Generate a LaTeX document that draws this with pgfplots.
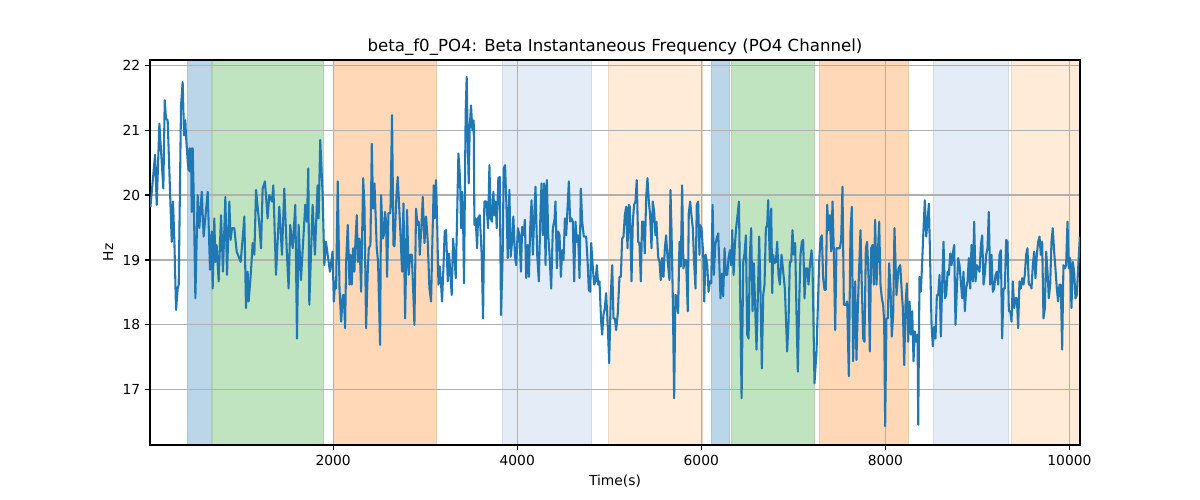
\documentclass[border=0pt]{standalone}
\usepackage{pgfplots}
\pgfplotsset{compat=1.18}
\usepackage{fontspec}
\setmainfont{DejaVu Sans}

\definecolor{tabblue}{HTML}{1F77B4}
\definecolor{gridgray}{HTML}{B0B0B0}
\definecolor{spanblue}{RGB}{188,214,233}
\definecolor{spangreen}{RGB}{192,227,192}
\definecolor{spanorange}{RGB}{255,217,183}
\definecolor{spanltblue}{RGB}{228,237,247}
\definecolor{spanltorange}{RGB}{255,235,216}

\tikzset{
    span/.style={draw=#1!92!black, line width=0.6pt, fill=#1},
}
\newcommand{\vspan}[3]{%
    \fill[span=#3] (axis cs:#1,16.15) rectangle (axis cs:#2,22.08);}

\begin{document}
\begin{tikzpicture}
\begin{axis}[
    at={(0,0)}, anchor=south west,
    width=9.3in, height=3.85in, scale only axis,
    set layers,
    xmin=10, xmax=10115, ymin=16.15, ymax=22.08,
    xtick={2000,4000,6000,8000,10000},
    ytick={17,18,19,20,21,22},
    scaled x ticks=false,
    grid=major,
    grid style={color=gridgray, line width=0.8pt},
    axis line style={line width=0.8pt},
    tick align=outside, tick pos=left,
    major tick length=3.5pt,
    tick style={black, line width=0.8pt},
    /pgf/number format/assume math mode=true,
    /pgf/number format/1000 sep={},
    ticklabel style={font=\fontsize{10}{12}\selectfont},
    label style={font=\fontsize{10}{12}\selectfont},
    title style={font=\fontsize{12}{14}\selectfont, yshift=-6pt},
    xlabel={Time(s)},
    ylabel={Hz},
    title={beta\_f0\_PO4: Beta Instantaneous Frequency (PO4 Channel)},
]
% shaded intervals
\pgfonlayer{axis background}
\vspan{413}{674}{spanblue}
\vspan{685}{1891}{spangreen}
\vspan{2000}{3120}{spanorange}
\vspan{3837}{4804}{spanltblue}
\vspan{4989}{6011}{spanltorange}
\vspan{6109}{6304}{spanblue}
\vspan{6326}{7228}{spangreen}
\vspan{7283}{8250}{spanorange}
\vspan{8522}{9337}{spanltblue}
\vspan{9370}{10115}{spanltorange}
\endpgfonlayer

% beta instantaneous frequency
\addplot[color=tabblue, line width=1.5pt, line join=round, mark=none] coordinates {
(15,19.82)(65,20.62)(83,19.85)(112,21.10)(155,20.10)(170,21.46)(184,21.18)(202,21.15)(246,19.28)(260,19.90)
(275,19.28)(293,18.23)(311,18.56)(322,18.62)(347,21.38)(365,21.74)(380,20.92)(394,21.15)(401,20.92)(420,20.51)
(430,20.38)(438,20.72)(445,20.36)(456,20.72)(463,19.74)(474,20.72)(485,20.00)(503,18.41)(528,20.00)(546,19.49)
(572,20.05)(593,19.36)(637,20.05)(662,18.85)(680,19.44)(691,18.56)(709,19.64)(720,18.97)(734,19.23)(756,18.67)
(782,19.69)(803,18.82)(829,19.97)(847,18.77)(872,19.90)(886,19.31)(901,19.49)(926,19.49)(952,19.13)(995,18.97)
(1017,19.33)(1035,19.67)(1053,18.26)(1071,18.82)(1082,18.36)(1107,18.82)(1125,19.26)(1144,19.08)(1162,20.08)(1198,19.54)
(1216,19.18)(1234,20.10)(1259,20.21)(1288,19.64)(1306,20.00)(1335,19.90)(1350,20.15)(1379,18.77)(1415,19.82)(1444,19.08)
(1469,20.10)(1495,19.18)(1516,18.56)(1534,19.54)(1560,19.18)(1589,19.85)(1607,17.79)(1625,19.54)(1650,18.69)(1697,19.85)
(1715,19.59)(1730,20.41)(1741,18.31)(1777,19.85)(1802,19.08)(1831,20.15)(1842,19.64)(1860,20.85)(1886,20.00)(1904,18.92)
(1922,19.28)(1965,18.82)(1994,19.13)
(2007,18.36)(2021,18.67)(2032,18.56)(2050,20.21)(2069,18.56)(2087,18.05)(2105,18.46)(2116,18.46)(2130,17.95)(2141,18.97)
(2159,19.54)(2177,18.62)(2188,19.08)(2202,18.62)(2217,19.18)(2231,18.82)(2242,19.28)(2257,19.69)(2268,18.97)(2286,19.33)
(2304,18.51)(2326,20.26)(2340,19.85)(2358,17.95)(2376,18.82)(2387,19.18)(2405,19.23)(2420,20.79)(2434,19.79)(2449,20.18)
(2459,19.79)(2474,19.18)(2488,18.97)(2510,17.69)(2521,20.00)(2539,19.33)(2550,19.38)(2564,19.74)(2575,19.59)(2586,18.74)
(2601,19.72)(2622,19.72)(2640,21.23)(2655,19.23)(2666,19.21)(2688,20.00)(2702,20.28)(2727,19.54)(2749,18.82)(2764,19.87)
(2782,18.10)(2803,19.77)(2821,18.77)(2836,19.08)(2854,19.08)(2869,18.56)(2883,18.00)(2901,19.79)(2916,19.54)(2930,19.59)
(2941,19.08)(2959,19.51)(2974,19.97)(2992,19.26)(3010,19.67)(3028,19.28)(3046,18.56)(3064,18.36)(3078,19.28)(3093,20.15)
(3104,19.64)(3118,20.23)(3129,19.64)(3144,18.62)(3158,18.90)(3173,18.62)(3183,18.36)(3198,18.87)(3212,19.44)(3227,19.46)
(3245,18.67)(3259,19.10)(3270,18.87)(3288,18.46)(3303,19.33)(3317,19.08)(3332,18.72)(3346,19.59)(3361,20.64)(3379,20.26)
(3390,19.49)(3401,20.05)(3412,19.59)(3422,18.64)(3433,20.31)(3440,21.28)(3451,21.82)(3462,20.87)(3473,20.18)(3484,21.05)
(3498,21.38)(3513,21.00)(3527,21.15)(3535,19.54)(3549,19.64)(3564,19.18)(3574,19.64)(3593,19.69)(3614,19.08)(3629,18.10)
(3643,19.90)(3665,19.90)(3683,19.49)(3698,20.46)(3712,19.64)(3726,19.59)(3741,20.05)(3752,19.69)(3766,19.90)(3777,19.49)
(3795,20.26)(3810,20.28)(3824,18.15)(3842,19.08)(3853,20.41)(3868,20.46)(3886,19.69)(3897,19.03)(3915,20.08)(3929,19.05)
(3944,19.28)(3958,19.67)(3976,19.05)
(3989,18.92)(4007,19.49)(4025,19.38)(4040,18.82)(4054,19.51)(4069,19.38)(4083,19.62)(4098,18.72)(4112,19.23)(4127,18.74)
(4141,19.49)(4156,19.92)(4170,19.08)(4184,19.64)(4199,20.13)(4217,19.08)(4235,18.67)(4250,19.59)(4264,20.18)(4279,19.38)
(4293,20.18)(4308,18.92)(4322,20.23)(4337,19.38)(4351,19.08)(4369,18.56)(4387,19.49)(4405,19.62)(4416,19.90)(4431,18.87)
(4445,19.44)(4460,19.38)(4474,18.74)(4489,19.15)(4503,19.00)(4518,19.64)(4532,19.38)(4550,19.90)(4561,20.21)(4575,19.59)
(4590,19.64)(4604,19.59)(4619,18.67)(4633,19.59)(4648,19.28)(4662,19.38)(4677,18.72)(4691,20.10)(4706,19.59)(4724,19.36)
(4749,19.36)(4764,19.00)(4778,18.54)(4793,18.51)(4804,19.26)(4822,18.87)(4836,18.62)(4851,18.67)(4865,18.92)(4880,18.62)
(4894,18.67)(4912,18.05)(4923,17.85)(4937,18.15)(4952,18.26)(4966,18.49)(4985,17.95)(4999,17.41)(5017,18.46)(5032,18.92)
(5046,18.10)(5061,18.10)(5075,17.92)(5093,18.18)(5111,18.74)(5126,18.74)(5140,19.33)(5155,19.36)(5169,19.69)(5184,19.82)
(5198,19.18)(5213,19.85)(5223,19.82)(5242,18.67)(5256,19.59)(5270,19.85)(5285,19.90)(5299,20.23)(5314,19.28)(5328,19.26)
(5343,18.67)(5357,19.59)(5372,19.59)(5386,19.10)(5401,19.95)(5415,20.26)(5430,19.90)(5444,19.69)(5459,19.18)(5473,19.90)
(5488,19.74)(5502,19.38)(5513,19.59)(5531,19.05)(5546,18.97)(5560,18.69)(5575,19.03)(5589,18.74)(5604,19.18)(5618,19.38)
(5636,18.97)(5654,18.69)(5665,20.08)(5676,19.49)(5690,18.46)(5705,16.87)(5719,18.46)(5734,18.44)(5748,18.18)(5763,19.28)
(5777,18.90)(5792,20.15)(5806,18.87)(5821,19.00)(5835,19.00)(5853,18.21)(5864,19.72)(5879,19.90)(5893,19.69)(5908,19.49)
(5922,18.97)(5937,18.56)(5951,19.85)(5966,19.90)(5980,19.08)
(5985,19.54)(6003,19.49)(6021,19.08)(6032,18.36)(6047,19.08)(6065,18.92)(6079,18.51)(6094,18.67)(6108,18.64)(6123,19.85)
(6137,18.77)(6152,19.23)(6166,19.33)(6184,19.41)(6195,18.97)(6209,18.41)(6224,18.79)(6238,18.44)(6253,19.18)(6267,18.77)
(6282,18.77)(6296,19.03)(6311,19.15)(6325,18.92)(6336,19.46)(6351,18.77)(6365,19.23)(6380,19.51)(6394,19.69)(6409,19.90)
(6419,18.82)(6438,16.87)(6456,18.97)(6470,19.10)(6485,19.38)(6499,17.85)(6514,17.79)(6528,19.08)(6542,19.49)(6557,18.21)
(6571,18.95)(6586,18.26)(6600,17.62)(6615,18.46)(6629,19.36)(6644,18.46)(6658,17.33)(6673,18.46)(6687,18.62)(6702,19.49)
(6716,19.54)(6727,19.92)(6745,18.97)(6760,19.79)(6771,18.49)(6781,19.08)(6796,18.95)(6810,18.97)(6825,19.28)(6839,18.77)
(6854,18.62)(6872,19.08)(6890,18.82)(6908,18.56)(6933,17.59)(6948,18.05)(6962,18.97)(6977,18.97)(6991,19.46)(7006,19.08)
(7020,19.26)(7035,18.15)(7049,17.28)(7064,18.36)(7078,19.08)(7093,19.28)(7107,19.31)(7122,18.41)(7136,18.87)(7151,18.87)
(7165,18.62)(7180,18.92)(7198,19.15)(7209,18.87)(7230,17.10)(7252,17.59)(7266,18.26)(7281,18.97)(7295,19.33)(7310,19.38)
(7324,18.72)(7339,18.54)(7353,18.54)(7368,19.85)(7382,19.46)(7397,19.69)(7411,19.13)(7426,19.90)(7440,19.13)(7455,17.92)
(7469,19.18)(7487,19.18)(7505,19.18)(7520,19.31)(7534,20.13)(7549,18.31)(7571,18.31)(7585,18.36)(7603,17.21)(7621,19.44)
(7636,19.82)(7650,17.44)(7672,18.67)(7686,17.46)(7701,18.26)(7715,18.87)(7730,19.46)(7744,18.62)(7759,17.79)(7773,17.74)
(7788,19.18)(7802,19.28)(7817,18.74)(7831,17.59)(7846,19.18)(7860,19.23)(7875,18.62)(7889,19.62)(7904,18.62)(7918,19.08)
(7933,19.59)(7947,18.62)(7962,18.41)(7976,18.31)(7987,18.05)(7998,16.44)(8012,18.10)(8027,18.10)(8041,18.95)(8056,18.56)
(8070,17.82)(8085,18.15)(8099,19.49)(8121,18.46)(8143,18.87)
(8162,18.92)(8176,18.56)(8190,18.26)(8205,17.38)(8219,18.31)(8234,18.64)(8248,17.74)(8263,18.36)(8277,17.85)(8292,18.21)
(8306,17.44)(8321,17.90)(8335,17.74)(8350,17.85)(8357,16.46)(8371,18.74)(8386,18.51)(8400,18.97)(8415,19.49)(8429,19.92)
(8444,19.36)(8458,19.59)(8473,19.87)(8487,18.97)(8502,18.00)(8516,17.67)(8531,17.97)(8545,17.79)(8560,18.46)(8574,18.46)
(8589,18.77)(8603,17.82)(8618,18.67)(8632,19.28)(8647,18.41)(8661,18.46)(8676,18.82)(8690,18.77)(8705,19.10)(8719,18.92)
(8733,19.10)(8748,19.23)(8762,18.00)(8777,18.56)(8791,19.03)(8806,18.92)(8820,18.67)(8835,18.41)(8849,18.82)(8864,18.21)
(8878,18.56)(8893,18.67)(8907,19.03)(8922,18.56)(8936,19.23)(8951,18.67)(8965,19.59)(8980,18.67)(8994,18.92)(9009,18.87)
(9023,18.82)(9038,19.23)(9052,19.38)(9067,18.62)(9081,18.79)(9095,19.08)(9110,19.18)(9124,19.74)(9139,18.62)(9153,19.08)
(9168,18.51)(9182,18.56)(9197,18.77)(9211,18.82)(9226,18.62)(9240,19.08)(9255,19.15)(9269,17.79)(9284,18.56)(9298,18.56)
(9313,19.31)(9327,19.28)(9342,18.21)(9356,18.21)(9371,18.05)(9385,18.67)(9400,18.26)(9414,18.41)(9429,18.41)(9443,17.95)
(9457,18.67)(9472,18.56)(9486,18.72)(9501,18.62)(9515,18.77)(9530,19.08)(9544,19.18)(9559,18.62)(9573,18.62)(9588,18.56)
(9602,18.92)(9617,19.13)(9631,18.72)(9646,19.08)(9660,19.28)(9675,19.36)(9689,19.08)(9704,19.28)(9718,18.10)(9733,18.26)
(9747,19.13)(9762,18.82)(9776,18.41)(9791,18.62)(9805,19.28)(9819,19.49)(9834,19.13)(9848,18.87)(9863,18.56)(9877,18.36)
(9892,18.62)(9906,18.62)(9921,17.62)(9935,18.92)(9950,18.87)(9964,18.92)(9979,19.59)(9993,18.87)(10008,19.03)(10022,18.26)
(10037,18.97)(10051,18.82)(10066,18.41)(10080,18.46)(10095,18.87)(10113,19.36)
};
\end{axis}
\path[use as bounding box] (-1.5in,-0.55in) rectangle (10.5in,4.45in);
\end{tikzpicture}
\end{document}
